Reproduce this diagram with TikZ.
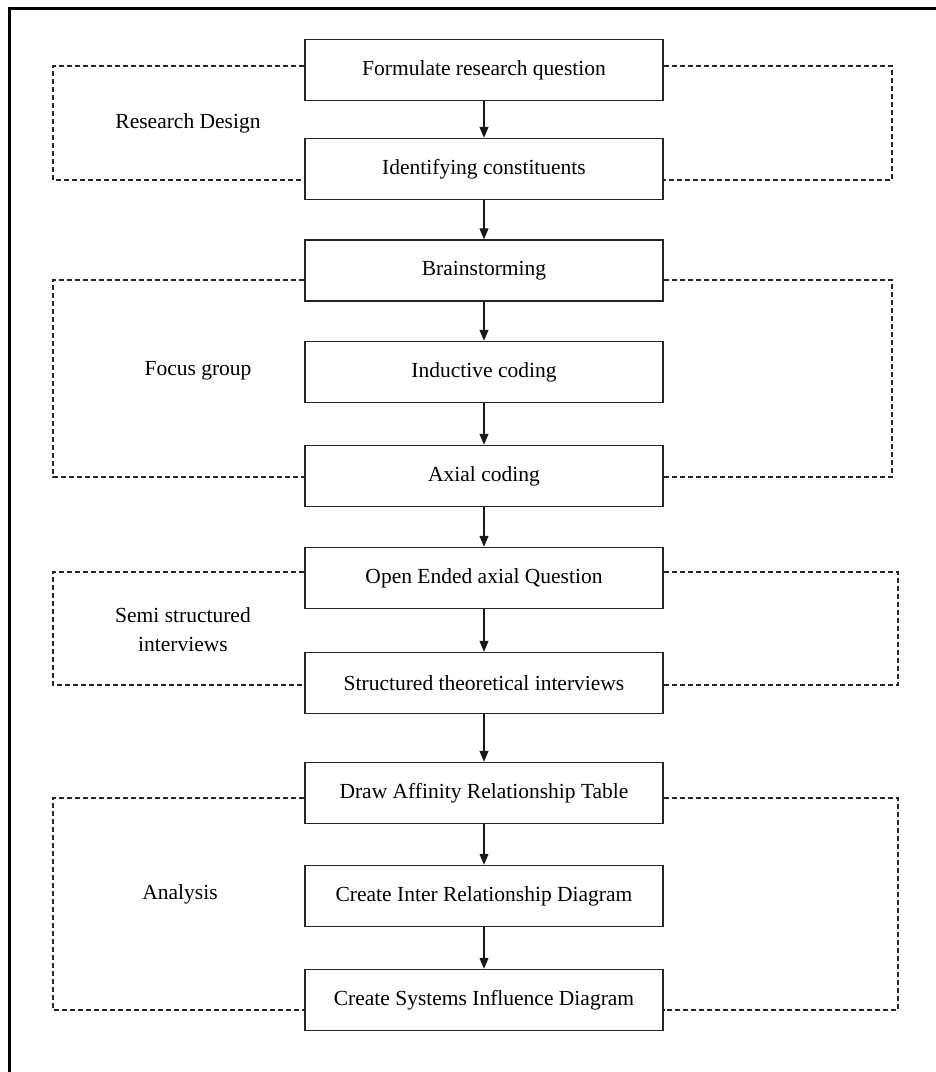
\documentclass[tikz,border=0pt]{standalone}
\usepackage{fontspec}
\setmainfont{Liberation Serif}
\usetikzlibrary{arrows.meta}
\begin{document}
\begin{tikzpicture}[x=1pt,y=-1pt,
  stepbox/.style={draw=black!85, line width=1.4pt, minimum width=358pt, minimum height=61pt, inner sep=0pt, font=\fontsize{21.5}{28}\selectfont},
  grouplabel/.style={font=\fontsize{21.5}{29}\selectfont, align=center, inner sep=0pt},
  flow/.style={draw=black!90, line width=1.3pt, -{Triangle[width=9pt,length=11pt]}},
  grp/.style={draw=black!85, line width=1.4pt, dash pattern=on 5pt off 3pt}]
\useasboundingbox (0,0) rectangle (936,1072);
\draw[line width=3pt] (9,1072) -- (9,8) -- (936,8);

\node[stepbox] (b1) at (484,70) {Formulate research question};
\node[stepbox] (b2) at (484,169) {Identifying constituents};
\node[stepbox] (b3) at (484,270.5) {Brainstorming};
\node[stepbox] (b4) at (484,372) {Inductive coding};
\node[stepbox] (b5) at (484,476) {Axial coding};
\node[stepbox] (b6) at (484,578) {Open Ended axial Question};
\node[stepbox] (b7) at (484,683) {Structured theoretical interviews};
\node[stepbox] (b8) at (484,793) {Draw Affinity Relationship Table};
\node[stepbox] (b9) at (484,896) {Create Inter Relationship Diagram};
\node[stepbox] (b10) at (484,1000) {Create Systems Influence Diagram};

\foreach \a/\b in {b1/b2,b2/b3,b3/b4,b4/b5,b5/b6,b6/b7,b7/b8,b8/b9,b9/b10}
  \draw[flow] (\a.south) -- (\b.north);

% group frames
\coordinate (g1lt) at (53,66);   \coordinate (g1lb) at (53,180);
\coordinate (g1rt) at (892,66);  \coordinate (g1rb) at (892,180);
\coordinate (g2lt) at (53,280);  \coordinate (g2lb) at (53,477);
\coordinate (g2rt) at (892,280); \coordinate (g2rb) at (892,477);
\coordinate (g3lt) at (53,572);  \coordinate (g3lb) at (53,685);
\coordinate (g3rt) at (898,572); \coordinate (g3rb) at (898,685);
\coordinate (g4lt) at (53,798);  \coordinate (g4lb) at (53,1010);
\coordinate (g4rt) at (898,798); \coordinate (g4rb) at (898,1010);

\draw[grp] (b1.west |- g1lt) -- (g1lt) -- (g1lb) -- (b2.west |- g1lb);
\draw[grp] (b1.east |- g1rt) -- (g1rt) -- (g1rb) -- (b2.east |- g1rb);
\draw[grp] (b3.west |- g2lt) -- (g2lt) -- (g2lb) -- (b5.west |- g2lb);
\draw[grp] (b3.east |- g2rt) -- (g2rt) -- (g2rb) -- (b5.east |- g2rb);
\draw[grp] (b6.west |- g3lt) -- (g3lt) -- (g3lb) -- (b7.west |- g3lb);
\draw[grp] (b6.east |- g3rt) -- (g3rt) -- (g3rb) -- (b7.east |- g3rb);
\draw[grp] (b8.west |- g4lt) -- (g4lt) -- (g4lb) -- (b10.west |- g4lb);
\draw[grp] (b8.east |- g4rt) -- (g4rt) -- (g4rb) -- (b10.east |- g4rb);

\node[grouplabel] (l1) at (188,123) {Research Design};
\node[grouplabel] (l2) at (198,371) {Focus group};
\node[grouplabel] (l3) at (183,630) {Semi structured\\interviews};
\node[grouplabel] (l4) at (180,894) {Analysis};
\end{tikzpicture}
\end{document}
